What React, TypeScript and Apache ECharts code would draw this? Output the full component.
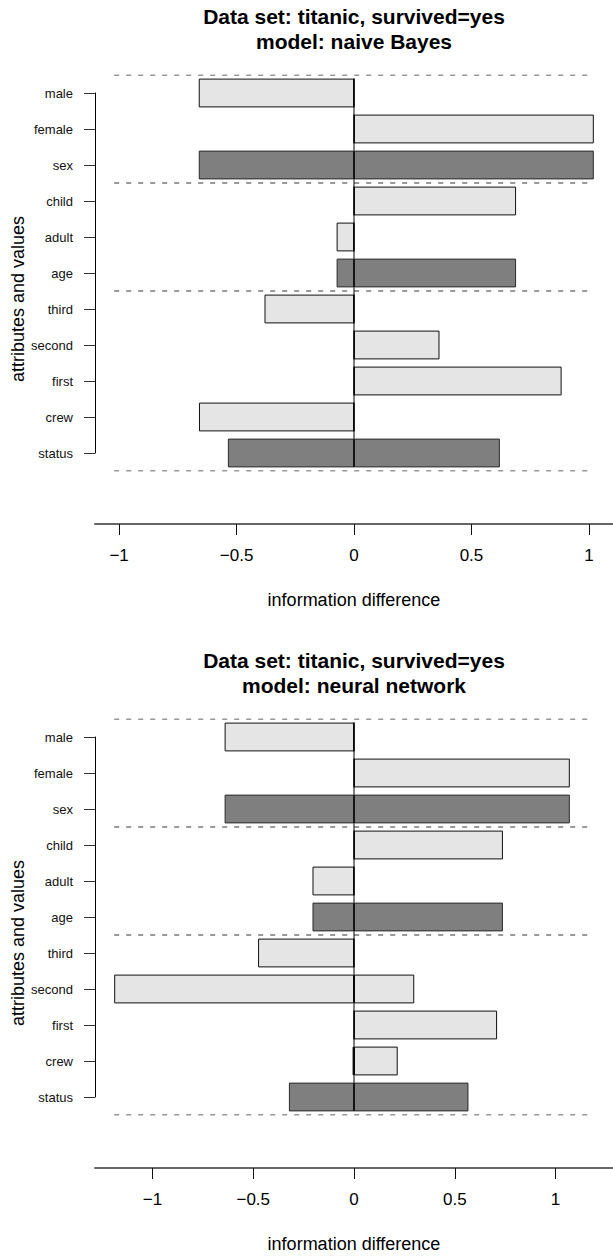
import React, { useEffect, useRef } from "react";
import * as echarts from "echarts";

const categories = ["male", "female", "sex", "child", "adult", "age", "third", "second", "first", "crew", "status"];
const isAttribute = [false, false, true, false, false, true, false, false, false, false, true];
const groupSizes = [3, 3, 5];
const xTicks = [-1, -0.5, 0, 0.5, 1];

const nbNeg = [-0.661, 0, -0.661, 0, -0.074, -0.074, -0.381, 0, 0, -0.66, -0.537];
const nbPos = [0, 1.021, 1.021, 0.69, 0, 0.69, 0, 0.364, 0.884, 0, 0.621];
const nnNeg = [-0.642, 0, -0.642, 0, -0.206, -0.206, -0.476, -1.19, 0, -0.007, -0.323];
const nnPos = [0, 1.071, 1.071, 0.739, 0, 0.739, 0, 0.299, 0.71, 0.217, 0.568];

const titles = [
  "Data set: titanic, survived=yes\nmodel: naive Bayes",
  "Data set: titanic, survived=yes\nmodel: neural network",
];
const xName = "information difference";
const yName = "attributes and values";

const FONT = "'Liberation Sans', Arial, Helvetica, sans-serif";
const LIGHT = "#e5e5e5";
const DARK = "#7f7f7f";

function buildOption() {
  const panels = [
    { neg: nbNeg, pos: nbPos, off: 0, title: titles[0] },
    { neg: nnNeg, pos: nnPos, off: 644, title: titles[1] },
  ];
  const grid: any[] = [];
  const xAxis: any[] = [];
  const yAxis: any[] = [];
  const series: any[] = [];
  const title: any[] = [];
  const graphic: any[] = [];

  const boundaries: number[] = [-0.5];
  groupSizes.forEach((g) => boundaries.push(boundaries[boundaries.length - 1] + g));

  panels.forEach((p, pi) => {
    const maxAbs = Math.max(...p.neg.map(Math.abs), ...p.pos.map(Math.abs));
    const ext = maxAbs * 1.08;
    grid.push({ left: 95, right: 0, top: 93 + p.off, height: 360 });
    grid.push({ left: 95, right: 0, top: 75 + p.off, height: 396 });
    const gA = 2 * pi;
    const gB = 2 * pi + 1;
    xAxis.push({
      gridIndex: gA,
      type: "value",
      min: -ext,
      max: ext,
      show: false,
      axisLine: { show: false, onZero: false },
    });
    xAxis.push({
      gridIndex: gB,
      type: "value",
      min: -ext,
      max: ext,
      offset: 53,
      splitLine: { show: false },
      axisLine: { show: true, onZero: false, lineStyle: { color: "#666", width: 2 } },
      axisTick: { show: true, customValues: xTicks, length: 11, lineStyle: { color: "#111", width: 1 } },
      axisLabel: {
        customValues: xTicks,
        fontSize: 17,
        margin: 23,
        color: "#000",
        fontFamily: FONT,
        formatter: (v: number) => (v < 0 ? "\u2212" + Math.abs(v) : String(v)),
      },
      name: xName,
      nameLocation: "middle",
      nameGap: 67,
      nameTextStyle: { fontSize: 18, color: "#000", fontFamily: FONT },
    });
    yAxis.push({
      gridIndex: gA,
      type: "category",
      data: categories,
      inverse: true,
      boundaryGap: false,
      axisLine: { show: true, onZero: false, lineStyle: { color: "#000", width: 1 } },
      axisTick: { show: true, length: 11, interval: 0, lineStyle: { color: "#333", width: 1 } },
      axisLabel: { fontSize: 13, margin: 22, interval: 0, color: "#111", fontFamily: FONT },
      splitLine: { show: false },
    });
    yAxis.push({
      gridIndex: gB,
      type: "category",
      data: categories,
      inverse: true,
      show: false,
      axisLine: { show: false, onZero: false },
    });
    yAxis.push({
      gridIndex: gB,
      type: "value",
      min: -0.5,
      max: categories.length - 0.5,
      inverse: true,
      show: false,
      axisLine: { show: false, onZero: false },
    });
    const xB = 2 * pi + 1;
    const yCat = 3 * pi + 1;
    const yVal = 3 * pi + 2;

    const mk = (vals: number[]) =>
      vals.map((v, i) => ({
        value: v,
        itemStyle: {
          color: isAttribute[i] ? DARK : LIGHT,
          borderColor: isAttribute[i] ? "#2a2a2a" : "#111",
          borderWidth: 1,
        },
      }));
    series.push({
      type: "bar",
      xAxisIndex: xB,
      yAxisIndex: yCat,
      data: mk(p.neg),
      barWidth: "80%",
      barGap: "-100%",
      silent: true,
      z: 2,
    });
    series.push({
      type: "bar",
      xAxisIndex: xB,
      yAxisIndex: yCat,
      data: mk(p.pos),
      barWidth: "80%",
      barGap: "-100%",
      silent: true,
      z: 2,
    });
    boundaries.forEach((b) => {
      series.push({
        type: "line",
        xAxisIndex: xB,
        yAxisIndex: yVal,
        data: [
          [-maxAbs, b],
          [maxAbs, b],
        ],
        symbol: "none",
        silent: true,
        lineStyle: { color: "#333", width: 1, type: [5, 7] },
        z: 3,
      });
    });
    series.push({
      type: "line",
      xAxisIndex: xB,
      yAxisIndex: yVal,
      data: [
        [0, -0.4],
        [0, categories.length - 1 + 0.4],
      ],
      symbol: "none",
      silent: true,
      lineStyle: { color: "#000", width: 1 },
      z: 5,
    });

    title.push({
      text: p.title,
      left: 354,
      top: 4 + p.off,
      textAlign: "center",
      padding: 0,
      textStyle: { fontSize: 21, fontWeight: "bold", lineHeight: 25, color: "#000", fontFamily: FONT },
    });
    graphic.push({
      type: "text",
      x: 18,
      y: 299 + p.off,
      rotation: Math.PI / 2,
      style: {
        text: yName,
        fontSize: 18,
        fontFamily: FONT,
        fill: "#000",
        align: "center",
        verticalAlign: "middle",
      },
    });
  });

  return {
    animation: false,
    backgroundColor: "#fff",
    title,
    grid,
    xAxis,
    yAxis,
    series,
    graphic,
  };
}

export default function App() {
  const ref = useRef<HTMLDivElement>(null);
  useEffect(() => {
    if (!ref.current) return;
    const chart = echarts.init(ref.current, undefined, { renderer: "svg" });
    chart.setOption(buildOption() as any);
    return () => chart.dispose();
  }, []);
  return (
    <div
      ref={ref}
      style={{ position: "absolute", left: 0, top: 0, width: 613, height: 1256, background: "#fff" }}
    />
  );
}
